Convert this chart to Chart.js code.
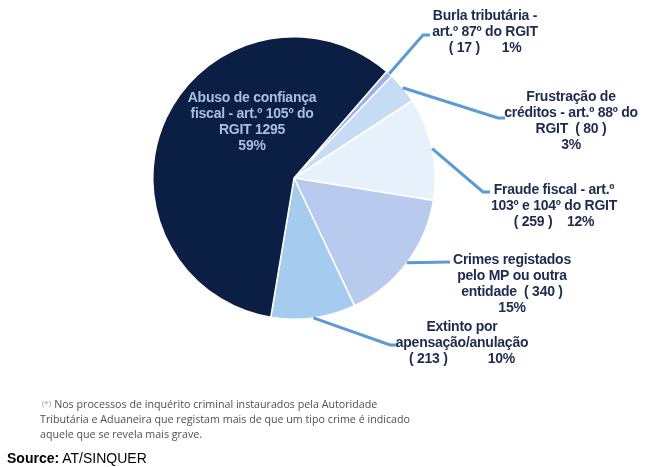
<!DOCTYPE html>
<html>
<head>
<meta charset="utf-8">
<script src="https://cdn.jsdelivr.net/npm/chart.js@4.4.1/dist/chart.umd.min.js"></script>
<style>
  html, body { margin: 0; padding: 0; background: #fff; }
  #wrap { position: relative; width: 652px; height: 467px; overflow: hidden; }
  #c { position: absolute; left: 0; top: 0; }
  #note { position: absolute; left: 40px; top: 395px; width: 440px; font-family: "Open Sans", sans-serif; font-size: 10.7px; line-height: 15px; color: #505050; }
  #note .ast { color: #6fa0d8; font-size: 8px; vertical-align: 2px; margin-left: 2px; margin-right: 3px; }
  #src { position: absolute; left: 7px; top: 450px; font-family: "Liberation Sans", Arial, sans-serif; font-size: 14px; color: #000; }
</style>
</head>
<body>
<div id="wrap">
  <canvas id="c" width="652" height="467"></canvas>
  <div id="note"><span class="ast">(*)</span>Nos processos de inquérito criminal instaurados pela Autoridade<br>Tributária e Aduaneira que registam mais de que um tipo crime é indicado<br>aquele que se revela mais grave.</div>
  <div id="src"><b>Source:</b> AT/SINQUER</div>
</div>
<script>
// ---- data ----
const categories = [
  "Burla tributária - art.º 87º do RGIT",
  "Frustração de créditos - art.º 88º do RGIT",
  "Fraude fiscal - art.º 103º e 104º do RGIT",
  "Crimes registados pelo MP ou outra entidade",
  "Extinto por apensação/anulação",
  "Abuso de confiança fiscal - art.º 105º do RGIT"
];
const counts = [17, 80, 259, 340, 213, 1295];
const percents = ["1%", "3%", "12%", "15%", "10%", "59%"];
const labelLines = [
  ["Burla tributária -", "art.º 87º do RGIT", "( 17 )      1%"],
  ["Frustração de", "créditos - art.º 88º do", "RGIT  ( 80 )", "3%"],
  ["Fraude fiscal - art.º", "103º e 104º do RGIT", "( 259 )    12%"],
  ["Crimes registados", "pelo MP ou outra", "entidade  ( 340 )", "15%"],
  ["Extinto por", "apensação/anulação", "( 213 )           10%"],
  ["Abuso de confiança", "fiscal - art.º 105º do", "RGIT 1295", "59%"]
];
const colors = ["#9fb3e3", "#c6dcf5", "#e6f1fc", "#b8cbee", "#a5cbee", "#0b1f45"];

// ---- label layout (leader elbow / text block), not data ----
const layout = [
  { elbow: [423, 35], end: [430, 35], tx: 485, ty: 16 },
  { elbow: [498, 118], end: [505, 118], tx: 571, ty: 97 },
  { elbow: [483, 192], end: [490, 192], tx: 554, ty: 190 },
  { elbow: [450, 262], end: [450, 262], tx: 512, ty: 260 },
  { elbow: [390, 345], end: [398, 345], tx: 462, ty: 327 },
  { inside: true, tx: 252, ty: 98 }
];

const labelPlugin = {
  id: 'pieLabels',
  afterDatasetsDraw(chart) {
    const ctx = chart.ctx;
    const meta = chart.getDatasetMeta(0);
    ctx.save();
    meta.data.forEach((arc, i) => {
      const p = arc.getProps(['x', 'y', 'startAngle', 'endAngle', 'outerRadius'], true);
      const mid = (p.startAngle + p.endAngle) / 2;
      const L = layout[i];
      const lines = labelLines[i];
      if (!L.inside) {
        const sx = p.x + Math.cos(mid) * p.outerRadius;
        const sy = p.y + Math.sin(mid) * p.outerRadius;
        ctx.strokeStyle = '#5b9bd5';
        ctx.lineWidth = 3;
        ctx.lineCap = 'butt';
        ctx.beginPath();
        ctx.moveTo(sx, sy);
        ctx.lineTo(L.elbow[0], L.elbow[1]);
        ctx.lineTo(L.end[0], L.end[1]);
        ctx.stroke();
        ctx.fillStyle = '#1d2b4f';
      } else {
        ctx.fillStyle = '#a9bfe2';
      }
      ctx.font = 'bold 14px "Liberation Sans", Arial, sans-serif';
      if ('letterSpacing' in ctx) ctx.letterSpacing = '-0.25px';
      ctx.textAlign = 'center';
      ctx.textBaseline = 'middle';
      lines.forEach((t, k) => ctx.fillText(t, L.tx, L.ty + k * 16));
    });
    ctx.restore();
  }
};

new Chart(document.getElementById('c'), {
  type: 'pie',
  data: {
    labels: categories,
    datasets: [{
      data: counts,
      backgroundColor: colors,
      borderColor: '#ffffff',
      borderWidth: 1.5
    }]
  },
  options: {
    responsive: false,
    animation: false,
    rotation: 41,
    layout: { padding: { left: 152, right: 216, top: 36, bottom: 147 } },
    plugins: { legend: { display: false }, tooltip: { enabled: false } }
  },
  plugins: [labelPlugin]
});
</script>
</body>
</html>
